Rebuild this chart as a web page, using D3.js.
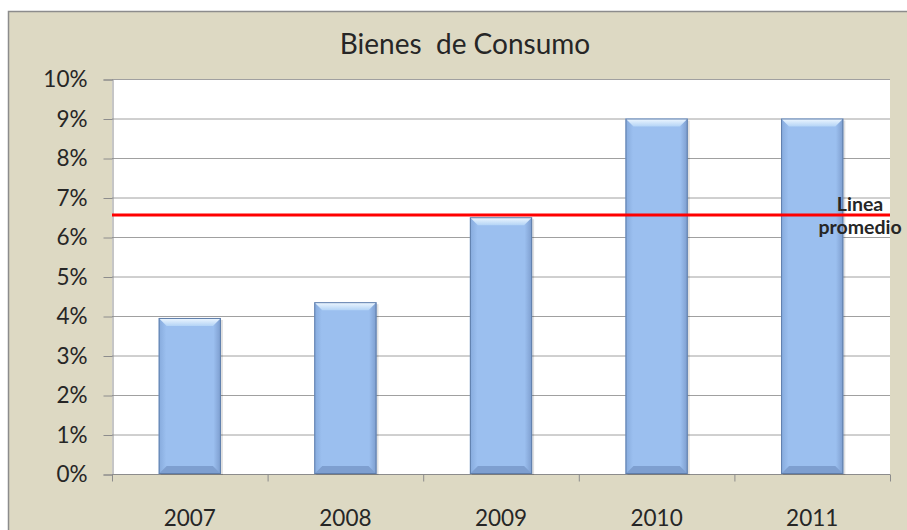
<!DOCTYPE html>
<html>
<head>
<meta charset="utf-8">
<script src="https://cdn.jsdelivr.net/npm/d3@7"></script>
<style>
  body { margin: 0; background: #ffffff; }
  text { font-family: Lato, "Noto Sans", sans-serif; fill: #262626; }
</style>
</head>
<body>
<svg id="chart" width="907" height="530"></svg>
<script>
// chart data
var years = ["2007", "2008", "2009", "2010", "2011"];
var values = [3.95, 4.35, 6.5, 9.0, 9.0];
var yTicks = [0, 1, 2, 3, 4, 5, 6, 7, 8, 9, 10];
var title = "Bienes  de Consumo";
var avgLabel = ["Linea", "promedio"];

var svg = d3.select("#chart");
var margin = {left: 112, right: 17, top: 79, bottom: 56};
var width = 907, height = 530;

//outer frame
svg.append("rect")
    .attr("x", 8.5).attr("y", 11.5)
    .attr("width", 920).attr("height", 540)
    .attr("fill", "#ddd9c3")
    .attr("stroke", "#8c8c8c")
    .attr("stroke-width", 1.5);

var x = d3.scaleBand()
    .domain(years)
    .range([margin.left, width - margin.right])
    .padding(0.6)
    .paddingOuter(0.3);

var y = d3.scaleLinear()
    .domain([0, 10])
    .range([height - margin.bottom, margin.top]);

//plot area
svg.append("rect")
    .attr("x", margin.left).attr("y", margin.top)
    .attr("width", width - margin.right - margin.left)
    .attr("height", y(0) - y(10))
    .attr("fill", "#ffffff");

//gridlines
svg.append("g")
    .selectAll("line")
    .data(yTicks.slice(1))
    .enter().append("line")
    .attr("x1", margin.left).attr("x2", width - margin.right)
    .attr("y1", d => y(d) + 0.5).attr("y2", d => y(d) + 0.5)
    .attr("stroke", "#a0a0a0")
    .attr("stroke-width", 1);

// y axis
var yAxis = svg.append("g")
    .attr("transform", "translate(" + (margin.left + 0.5) + ",0.5)")
    .call(d3.axisLeft(y).tickValues(yTicks).tickSize(9).tickPadding(16)
        .tickFormat(d => d + "%"));
yAxis.selectAll("path, line").attr("stroke", "#8c8c8c");
yAxis.selectAll("text").style("font-size", "22.5px").attr("fill", "#262626");

// x axis with tick marks between categories
var xAxisG = svg.append("g").attr("transform", "translate(0," + (y(0) + 0.5) + ")");
xAxisG.append("line")
    .attr("x1", margin.left).attr("x2", width - margin.right)
    .attr("stroke", "#8c8c8c");
var step = (width - margin.right - margin.left) / years.length;
xAxisG.selectAll("line.tick")
    .data(d3.range(years.length + 1))
    .enter().append("line")
    .attr("class", "tick")
    .attr("x1", i => margin.left + i * step + 0.5)
    .attr("x2", i => margin.left + i * step + 0.5)
    .attr("y1", 0).attr("y2", 7)
    .attr("stroke", "#8c8c8c");
xAxisG.selectAll("text")
    .data(years)
    .enter().append("text")
    .attr("x", d => x(d) + x.bandwidth() / 2)
    .attr("y", 51)
    .attr("text-anchor", "middle")
    .style("font-size", "22.5px")
    .text(d => d);

// bar gradients
var defs = svg.append("defs");
var grad = defs.append("linearGradient").attr("id", "barFill")
    .attr("x1", "0").attr("x2", "1").attr("y1", "0").attr("y2", "0");
grad.append("stop").attr("offset", "0").attr("stop-color", "#86aadc");
grad.append("stop").attr("offset", "0.12").attr("stop-color", "#9bbfef");
grad.append("stop").attr("offset", "0.88").attr("stop-color", "#9bbfef");
grad.append("stop").attr("offset", "1").attr("stop-color", "#7c9ccd");
var topGrad = defs.append("linearGradient").attr("id", "bevelTop")
    .attr("x1", "0").attr("x2", "0").attr("y1", "0").attr("y2", "1");
topGrad.append("stop").attr("offset", "0").attr("stop-color", "#f0f8ff");
topGrad.append("stop").attr("offset", "1").attr("stop-color", "#b4d4f6");

var bevel = 8;
var bars = svg.append("g").selectAll("g")
    .data(years.map((d, i) => ({year: d, value: values[i]})))
    .enter().append("g");

//shadow
bars.append("rect")
    .attr("x", d => x(d.year) + 2)
    .attr("y", d => y(d.value) + 2)
    .attr("width", x.bandwidth())
    .attr("height", d => y(0) - y(d.value) - 1)
    .attr("fill", "#000")
    .attr("opacity", 0.12);

bars.append("rect")
    .attr("x", d => x(d.year))
    .attr("y", d => y(d.value))
    .attr("width", x.bandwidth())
    .attr("height", d => y(0) - y(d.value))
    .attr("fill", "url(#barFill)");

//top bevel
bars.append("path")
    .attr("fill", "url(#bevelTop)")
    .attr("d", d => {
        var x0 = x(d.year), x1 = x0 + x.bandwidth(), t = y(d.value);
        return "M" + x0 + "," + t + "L" + x1 + "," + t + "L" + (x1 - bevel) + "," + (t + bevel) +
            "L" + (x0 + bevel) + "," + (t + bevel) + "Z";
    });
//bottom bevel
bars.append("path")
    .attr("fill", "#7e9fd0")
    .attr("d", d => {
        var x0 = x(d.year), x1 = x0 + x.bandwidth(), b = y(0);
        return "M" + x0 + "," + b + "L" + x1 + "," + b + "L" + (x1 - bevel) + "," + (b - bevel) +
            "L" + (x0 + bevel) + "," + (b - bevel) + "Z";
    });
//outline
bars.append("rect")
    .attr("x", d => x(d.year) + 0.5)
    .attr("y", d => y(d.value) + 0.5)
    .attr("width", x.bandwidth() - 1)
    .attr("height", d => y(0) - y(d.value) - 1)
    .attr("fill", "none")
    .attr("stroke", "#5f7eab")
    .attr("stroke-width", 1);

// average line
var avg = d3.mean(values);
svg.append("line")
    .attr("x1", margin.left).attr("x2", width - margin.right)
    .attr("y1", y(avg)).attr("y2", y(avg))
    .attr("stroke", "#ff0000")
    .attr("stroke-width", 3);

svg.append("text")
    .attr("x", 860).attr("y", y(avg) - 4)
    .attr("text-anchor", "middle")
    .style("font-size", "19.5px").style("font-weight", "bold")
    .attr("fill", "#111")
    .selectAll("tspan")
    .data(avgLabel)
    .enter().append("tspan")
    .attr("x", 860)
    .attr("dy", (d, i) => i === 0 ? 0 : 23)
    .text(d => d);

// title
svg.append("text")
    .attr("x", 465).attr("y", 54)
    .attr("text-anchor", "middle")
    .attr("xml:space", "preserve")
    .style("white-space", "pre")
    .style("font-size", "28px")
    .text(title);
</script>
</body>
</html>
